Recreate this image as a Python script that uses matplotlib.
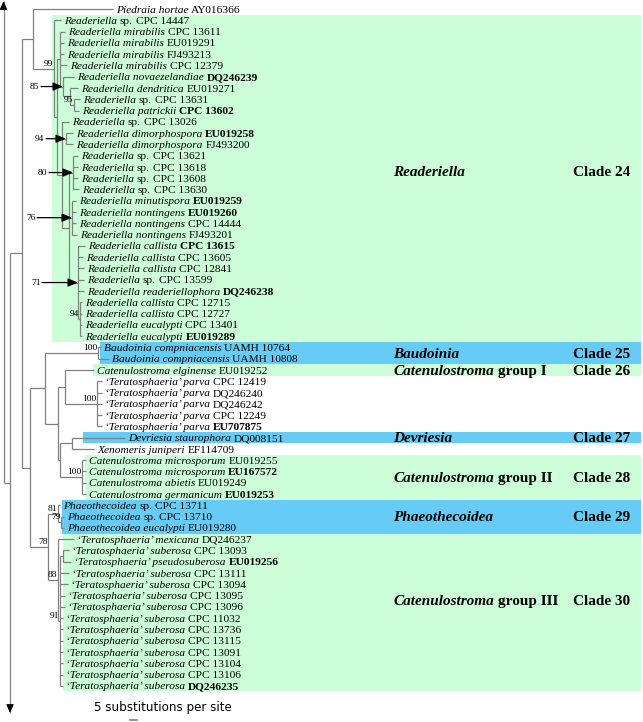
import matplotlib
matplotlib.use('Agg')
import matplotlib.pyplot as plt
from matplotlib.patches import Rectangle

taxa = (['Piedraia hortae', 'Readeriella sp.']
        + ['Readeriella mirabilis'] * 4
        + ['Readeriella novaezelandiae', 'Readeriella dendritica', 'Readeriella sp.',
           'Readeriella patrickii', 'Readeriella sp.']
        + ['Readeriella dimorphospora'] * 2
        + ['Readeriella sp.'] * 4
        + ['Readeriella minutispora'] + ['Readeriella nontingens'] * 3
        + ['Readeriella callista'] * 3
        + ['Readeriella sp.', 'Readeriella readeriellophora']
        + ['Readeriella callista'] * 2 + ['Readeriella eucalypti'] * 2
        + ['Baudoinia compniacensis'] * 2
        + ['Catenulostroma elginense'] + ['\u2018Teratosphaeria\u2019 parva'] * 5
        + ['Devriesia staurophora', 'Xenomeris juniperi']
        + ['Catenulostroma microsporum'] * 2
        + ['Catenulostroma abietis', 'Catenulostroma germanicum']
        + ['Phaeothecoidea sp.'] * 2 + ['Phaeothecoidea eucalypti']
        + ['\u2018Teratosphaeria\u2019 mexicana', '\u2018Teratosphaeria\u2019 suberosa',
           '\u2018Teratosphaeria\u2019 pseudosuberosa']
        + ['\u2018Teratosphaeria\u2019 suberosa'] * 11)

accessions = ['AY016366', 'CPC 14447', 'CPC 13611', 'EU019291', 'FJ493213', 'CPC 12379',
              'DQ246239', 'EU019271', 'CPC 13631', 'CPC 13602', 'CPC 13026', 'EU019258',
              'FJ493200', 'CPC 13621', 'CPC 13618', 'CPC 13608', 'CPC 13630', 'EU019259',
              'EU019260', 'CPC 14444', 'FJ493201', 'CPC 13615', 'CPC 13605', 'CPC 12841',
              'CPC 13599', 'DQ246238', 'CPC 12715', 'CPC 12727', 'CPC 13401', 'EU019289',
              'UAMH 10764', 'UAMH 10808', 'EU019252', 'CPC 12419', 'DQ246240', 'DQ246242',
              'CPC 12249', 'EU707875', 'DQ008151', 'EF114709', 'EU019255', 'EU167572',
              'EU019249', 'EU019253', 'CPC 13711', 'CPC 13710', 'EU019280', 'DQ246237',
              'CPC 13093', 'EU019256', 'CPC 13111', 'CPC 13094', 'CPC 13095', 'CPC 13096',
              'CPC 11032', 'CPC 13736', 'CPC 13115', 'CPC 13091', 'CPC 13104', 'CPC 13106',
              'DQ246235']
bold_acc = [6, 9, 11, 17, 18, 21, 25, 29, 37, 41, 43, 49, 60]   # ex-type sequences

# tip (end of terminal branch) of every leaf, in branch-length units
tips = [113, 61, 65, 64, 64, 67, 74, 78, 80, 79, 69, 73, 73, 78, 78, 78, 79, 76, 76, 76, 77,
        85, 83, 84, 84, 84, 82, 82, 82, 82, 101, 109, 94, 102, 102, 102, 102, 102, 125, 94,
        86, 86, 86, 86, 60, 64, 64, 74, 69, 71, 69, 68, 65, 65, 63, 63, 63, 63, 63, 63, 63]

# groups: first leaf, last leaf, genus label, clade
groups = [(1, 29, 'Readeriella', '', 'Clade 24'),
          (30, 31, 'Baudoinia', '', 'Clade 25'),
          (32, 32, 'Catenulostroma', ' group I', 'Clade 26'),
          (38, 38, 'Devriesia', '', 'Clade 27'),
          (40, 43, 'Catenulostroma', ' group II', 'Clade 28'),
          (44, 46, 'Phaeothecoidea', '', 'Clade 29'),
          (47, 60, 'Catenulostroma', ' group III', 'Clade 30')]
group_colour = ['#ccffd8', '#66ccf5', '#ccffd8', '#66ccf5', '#ccffd8', '#66ccf5', '#ccffd8']
band_left = [52, 100, 93, 83, 85, 62, 63]
label_row = [14.4, 30.5, 32, 38, 41.5, 45, 52.4]


def N(x, kids, lab='', arrow=0):
    return {'x': x, 'kids': kids, 'lab': lab, 'arrow': arrow}


readeriella = N(54, [1, N(57, [
    N(60, [2, 3, 4, 5, N(63, [6, N(70, [7, N(74, [8, 9], '95')])], '85', 22)]),
    N(62, [10, N(66, [11, 12], '94', 20),
           N(69, [N(73, [13, 14, 15, 16], '80', 24),
                  N(72, [17, 18, 19, 20], '76', 35),
                  N(78, [21, 22, 23, 24, 25, N(80, [26, 27, 28, 29], '94')], '71', 36)])])])],
    '99')
baudoinia = N(98, [30, 31], '100')
cat1 = N(65, [32, N(97, [33, 34, 35, 36, 37], '100')])
devr = N(60, [N(72, [38, 39]), N(82, [40, 41, 42, 43], '100')])
n45 = N(45, [baudoinia, N(58, [cat1, devr])])
phaeo = N(58, [44, N(61, [45, 46], '79')], '81')
cat3 = N(58, [47, N(60, [N(63, [48, 49])] + list(range(50, 61)), '91')], '88')
n48 = N(48, [phaeo, cat3], '78')
n22 = N(22, [N(33, [0, readeriella]), N(30, [n45, n48])])
n10 = N(10, [n22, 'down'])
root = N(3.5, ['up', n10])

# ---- layout ----
W, H = 643, 722
y0, dy = 9, 11.28
fig = plt.figure(figsize=(W / 100, H / 100), dpi=100)
ax = fig.add_axes([0, 0, 1, 1])
ax.set_xlim(0, W)
ax.set_ylim(H, 0)
ax.axis('off')

serif = 'Liberation Serif'
line_col = '#808080'


def leaf_y(i):
    return y0 + i * dy


for (a, b, g1, g2, cl), col, xl in zip(groups, group_colour, band_left):
    top = leaf_y(a) - dy / 2
    ax.add_patch(Rectangle((xl, top), 641 - xl, leaf_y(b) + dy / 2 - top,
                           facecolor=col, edgecolor='none', zorder=0))

end_y = {'up': 1, 'down': 713}


def place(node):
    if isinstance(node, str):
        return end_y[node]
    if isinstance(node, int):
        return leaf_y(node)
    ys = [place(k) for k in node['kids']]
    node['y'] = (ys[0] + ys[-1]) / 2
    node['ys'] = ys
    return node['y']


def draw(node):
    x = node['x']
    ax.plot([x, x], [node['ys'][0], node['ys'][-1]], color=line_col, lw=0.9,
            solid_capstyle='butt', zorder=2)
    for k, yk in zip(node['kids'], node['ys']):
        if isinstance(k, str):
            ax.annotate('', xy=(x, yk), xytext=(x, yk + (8 if k == 'up' else -8)),
                        arrowprops=dict(arrowstyle='-|>,head_length=0.5,head_width=0.22',
                                        color='black', lw=0.8, shrinkA=0, shrinkB=0))
            continue
        xk = tips[k] if isinstance(k, int) else k['x']
        ax.plot([x, xk], [yk, yk], color=line_col, lw=0.9, solid_capstyle='butt', zorder=2)
        if isinstance(k, dict):
            draw(k)
    if node['lab']:
        if node['arrow']:
            xs = x - node['arrow']
            ax.annotate('', xy=(x, node['y']), xytext=(xs, node['y']),
                        arrowprops=dict(arrowstyle='-|>,head_length=0.6,head_width=0.25',
                                        color='black', lw=0.9, shrinkA=0, shrinkB=0),
                        zorder=4)
            ax.text(xs - 1.5, node['y'], node['lab'], ha='right', va='center',
                    family=serif, fontsize=6.8, zorder=4)
        else:
            ax.text(x - 0.5, node['y'] - 0.8, node['lab'], ha='right', va='bottom',
                    family=serif, fontsize=6.8, zorder=4)


place(root)
draw(root)

# ---- leaf labels with mixed styles ----
renderer = fig.canvas.get_renderer()
fs = 8.2


def put(x, y, parts, size=fs):
    for s, style, weight in parts:
        t = ax.text(x, y, s, family=serif, fontsize=size, fontstyle=style,
                    fontweight=weight, va='baseline', ha='left', zorder=5)
        x += t.get_window_extent(renderer).width + 0.25 * size * 100 / 72
    return x


for i, (name, acc) in enumerate(zip(taxa, accessions)):
    parts = []
    if name.endswith(' sp.'):
        parts.append((name[:-4], 'italic', 'normal'))
        parts.append(('sp.', 'normal', 'normal'))
    else:
        parts.append((name, 'italic', 'normal'))
    parts.append((acc, 'normal', 'bold' if i in bold_acc else 'normal'))
    put(tips[i] + 3, leaf_y(i) + 3.6, parts)

for (a, b, g1, g2, cl), r in zip(groups, label_row):
    yb = leaf_y(r) + 4.8
    parts = [(g1, 'italic', 'bold')]
    if g2:
        parts.append((g2.strip(), 'normal', 'bold'))
    put(393, yb, parts, size=11)
    ax.text(573, yb, cl, family=serif, fontsize=11, fontweight='bold', va='baseline')

# scale bar
scale_len = 7
ax.text(163, 707, '5 substitutions per site', family='DejaVu Sans', fontsize=8.6,
        ha='center', va='center')
ax.plot([130, 130 + scale_len], [720, 720], color=line_col, lw=1.2)

fig.savefig('out.png', dpi=100)
